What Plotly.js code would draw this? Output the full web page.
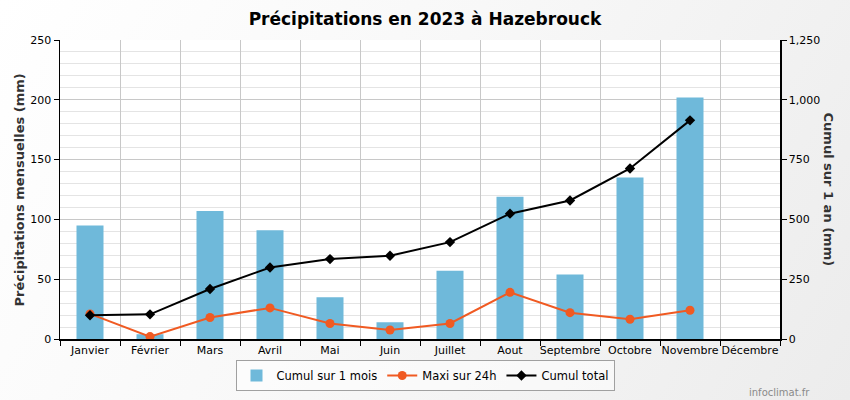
<!DOCTYPE html>
<html>
<head>
<meta charset="utf-8">
<script src="https://cdn.plot.ly/plotly-3.0.1.min.js"></script>
<style>
html,body{margin:0;padding:0;}
#chart{width:850px;height:400px;background:linear-gradient(120deg,#ffffff 0%,#f8f8f8 45%,#ececec 100%);}
</style>
</head>
<body>
<div id="chart"></div>
<script>
const months = ["Janvier","Février","Mars","Avril","Mai","Juin","Juillet","Aout","Septembre","Octobre","Novembre","Décembre"];
const cumulMois = [95, 4, 107, 91, 35, 14, 57, 119, 54, 135, 202, null];
const maxi24h = [21, 2, 18, 26, 13, 7.5, 13, 39, 22, 16.5, 24, null];
const cumulTotal = [99, 103, 209, 299, 334, 348, 405, 524, 579, 713, 914, null];

const traces = [
  {
    type: "bar", x: months, y: cumulMois, name: "Cumul sur 1 mois",
    marker: {color: "#6fb9da", line: {width: 0}}, width: 0.45
  },
  {
    type: "scatter", mode: "lines+markers", x: months, y: maxi24h, name: "Maxi sur 24h",
    line: {color: "#f05a22", width: 2}, marker: {color: "#f05a22", size: 9, symbol: "circle"}
  },
  {
    type: "scatter", mode: "lines+markers", x: months, y: cumulTotal, name: "Cumul total", yaxis: "y2",
    line: {color: "#000000", width: 2}, marker: {color: "#000000", size: 8, symbol: "diamond"}
  }
];

const font = "DejaVu Sans, Verdana, sans-serif";
const layout = {
  width: 850, height: 400,
  paper_bgcolor: "rgba(0,0,0,0)", plot_bgcolor: "#ffffff",
  margin: {l: 60, r: 70, t: 40, b: 61},
  font: {family: font, size: 11, color: "#000"},
  title: {text: "<b>Précipitations en 2023 à Hazebrouck</b>", x: 0.5, xanchor: "center", y: 0.953, yanchor: "middle",
          font: {family: font, size: 17, color: "#000"}},
  showlegend: true,
  legend: {orientation: "h", x: 0.5, xanchor: "center", xref: "container", y: 0.1, yref: "container", yanchor: "top",
           bgcolor: "rgba(255,255,255,0.5)", bordercolor: "#a0a0a0", borderwidth: 1,
           font: {family: font, size: 11.5, color: "#000"}, itemwidth: 30},
  xaxis: {
    type: "category", range: [-0.5, 11.5], autorange: false,
    tickson: "boundaries", ticks: "outside", ticklen: 5, tickcolor: "#000",
    tickangle: 0,
    showgrid: true, gridcolor: "#c8c8c8", gridwidth: 1,
    showline: true, linecolor: "#000", linewidth: 1.5,
    tickfont: {family: font, size: 11, color: "#000"}
  },
  yaxis: {
    range: [0, 250], dtick: 50, ticks: "outside", ticklen: 5, tickcolor: "#000",
    showgrid: true, gridcolor: "#c8c8c8", gridwidth: 1,
    minor: {dtick: 10, showgrid: true, gridcolor: "#e4e4e4", gridwidth: 1},
    showline: true, linecolor: "#000", linewidth: 1.5, zeroline: false,
    tickfont: {family: font, size: 11, color: "#000"}
  },
  yaxis2: {
    overlaying: "y", side: "right", range: [0, 1250], dtick: 250, tickformat: ",d",
    ticks: "outside", ticklen: 5, tickcolor: "#000",
    showgrid: false, showline: true, linecolor: "#000", linewidth: 1.5, zeroline: false,
    tickfont: {family: font, size: 11, color: "#000"}
  },
  annotations: [
    {text: "<b>Précipitations mensuelles (mm)</b>", xref: "paper", yref: "paper", x: -0.0556, y: 0.5,
     xanchor: "center", yanchor: "middle", textangle: -90, showarrow: false,
     font: {family: font, size: 13, color: "#333"}},
    {text: "<b>Cumul sur 1 an (mm)</b>", xref: "paper", yref: "paper", x: 1.068, y: 0.5,
     xanchor: "center", yanchor: "middle", textangle: 90, showarrow: false,
     font: {family: font, size: 13, color: "#333"}},
    {text: "infoclimat.fr", xref: "paper", yref: "paper", x: 1.044, y: -0.18,
     xanchor: "right", yanchor: "middle", showarrow: false,
     font: {family: font, size: 10, color: "#8a8a8a"}}
  ]
};

Plotly.newPlot("chart", traces, layout, {displayModeBar: false, staticPlot: true});
</script>
</body>
</html>
